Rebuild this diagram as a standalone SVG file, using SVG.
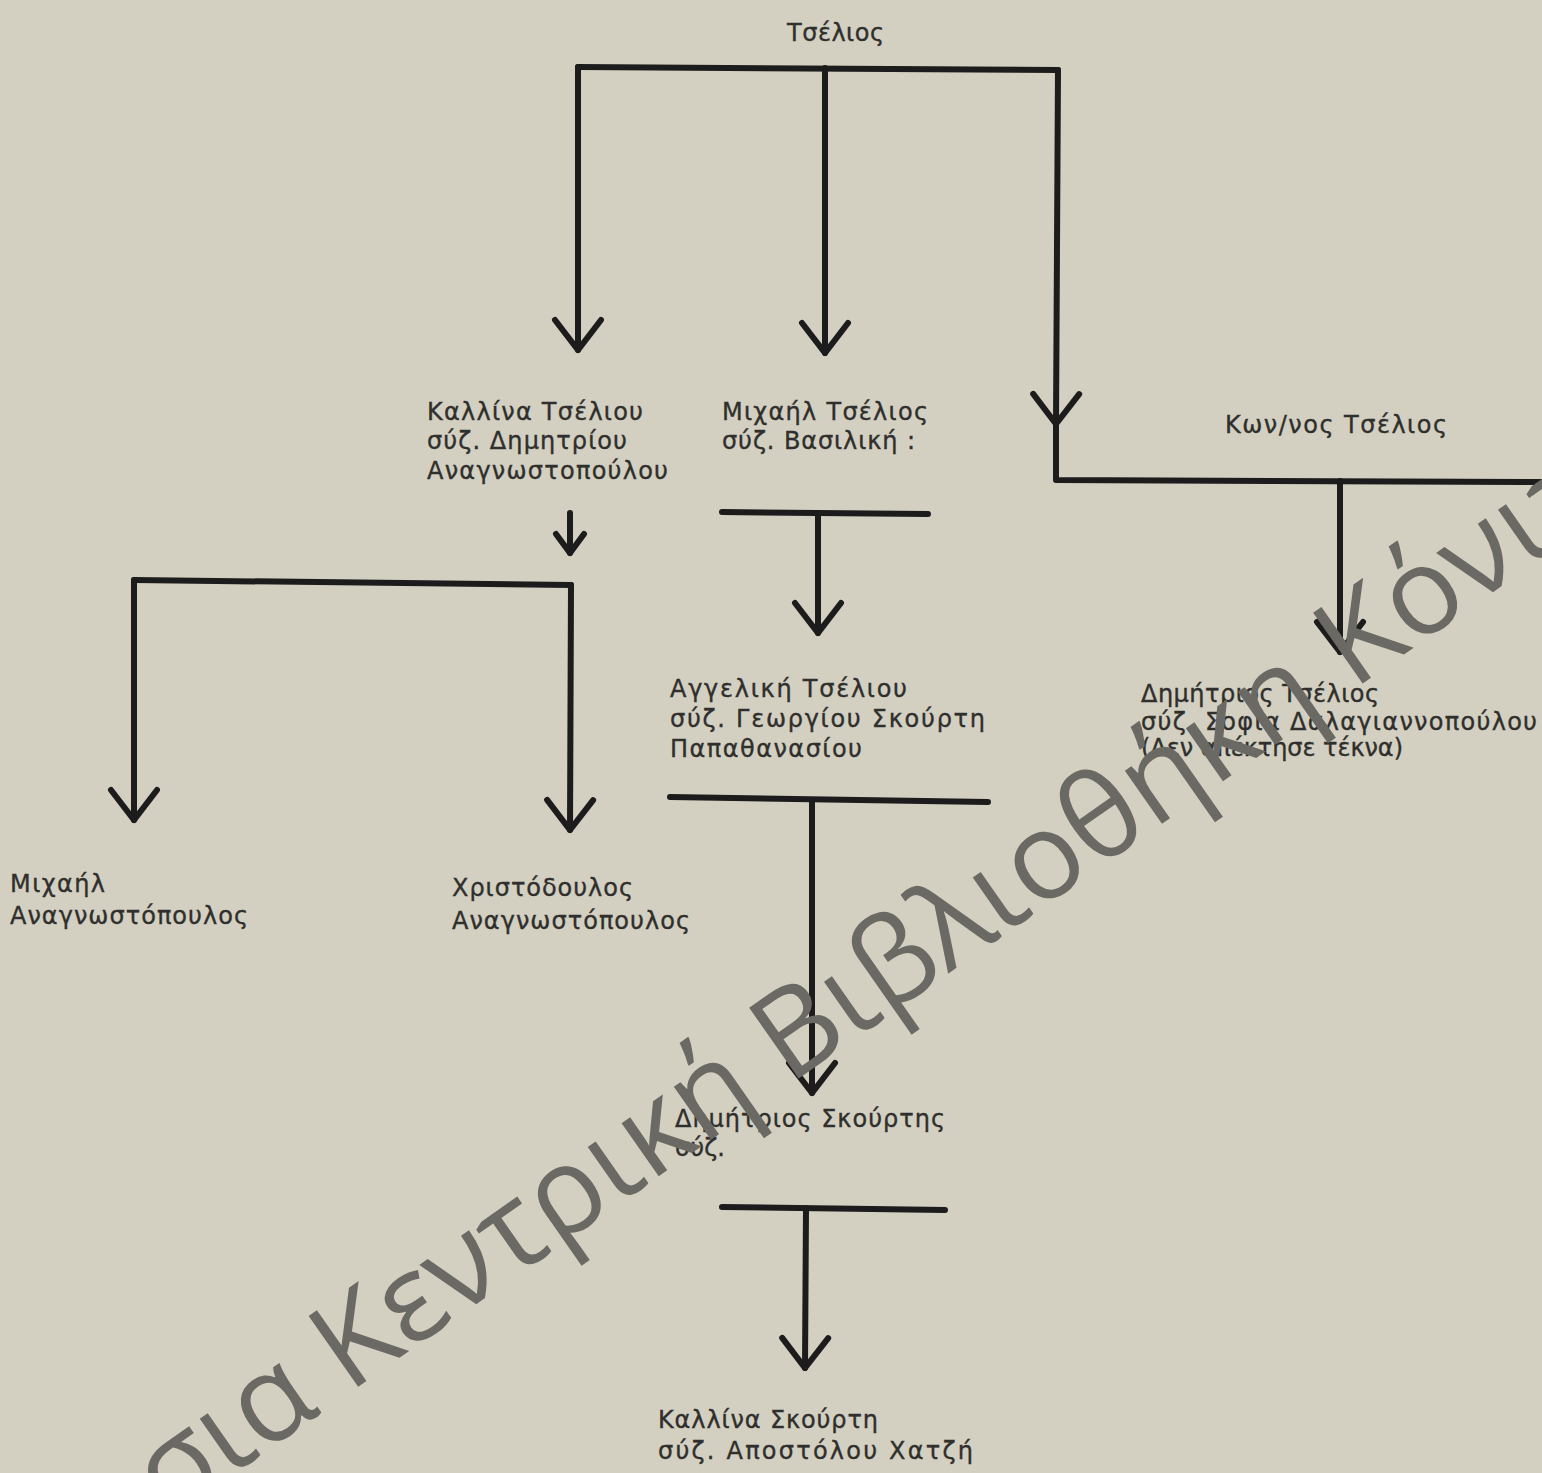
<svg xmlns="http://www.w3.org/2000/svg" width="1542" height="1473" viewBox="0 0 1542 1473">
<defs>
<style>
.bg{fill:#d3d0c1}
.ln{fill:none;stroke:#1c1c1c;stroke-width:6;stroke-linecap:round;stroke-linejoin:round}
.t{font-family:"DejaVu Sans","Liberation Sans",sans-serif;font-size:24px;fill:#2f2f2d;stroke:#2f2f2d;stroke-width:0.35px}
.wm{font-family:"Open Sans","DejaVu Sans",sans-serif;font-size:121px;fill:#6a6963}
</style>
<marker id="ah" markerUnits="userSpaceOnUse" orient="auto" markerWidth="80" markerHeight="80" refX="0" refY="0" viewBox="-40 -40 80 80" overflow="visible">
<path d="M-30,-23 L0,0 L-30,23" fill="none" stroke="#1c1c1c" stroke-width="6" stroke-linecap="round" stroke-linejoin="round"/>
</marker>
<marker id="ahs" markerUnits="userSpaceOnUse" orient="auto" markerWidth="60" markerHeight="60" refX="0" refY="0" viewBox="-30 -30 60 60" overflow="visible">
<path d="M-19,-14 L0,0 L-19,14" fill="none" stroke="#1c1c1c" stroke-width="6" stroke-linecap="round" stroke-linejoin="round"/>
</marker>
</defs>
<rect class="bg" x="0" y="0" width="1542" height="1473"/>

<g id="connectors">
<path class="ln" d="M578,67 L1058,70"/>
<path class="ln" d="M578,67 L578,350" marker-end="url(#ah)"/>
<path class="ln" d="M825,68 L825,353" marker-end="url(#ah)"/>
<path class="ln" d="M1058,70 L1056,424" marker-end="url(#ah)"/>
<path class="ln" d="M1056,424 L1056,480 L1542,482"/>
<path class="ln" d="M570,513 L570,553" marker-end="url(#ahs)"/>
<path class="ln" d="M134,580 L571,585"/>
<path class="ln" d="M134,580 L134,820" marker-end="url(#ah)"/>
<path class="ln" d="M571,585 L570,830" marker-end="url(#ah)"/>
<path class="ln" d="M722,512 L928,514"/>
<path class="ln" d="M818,513 L818,633" marker-end="url(#ah)"/>
<path class="ln" d="M670,797 L988,802"/>
<path class="ln" d="M812,800 L812,1093" marker-end="url(#ah)"/>
<path class="ln" d="M722,1207 L945,1210"/>
<path class="ln" d="M806,1208 L805,1368" marker-end="url(#ah)"/>
<path class="ln" d="M1340,481 L1340,652" marker-end="url(#ah)"/>
</g>

<g id="n-tselios"><text class="t" x="787" y="41" textLength="97" lengthAdjust="spacing">Τσέλιος</text></g>

<g id="n-kallina-tseliou">
<text class="t" x="427" y="420" textLength="216" lengthAdjust="spacing">Καλλίνα Τσέλιου</text>
<text class="t" x="427" y="449" textLength="200" lengthAdjust="spacing">σύζ. Δημητρίου</text>
<text class="t" x="427" y="479" textLength="241" lengthAdjust="spacing">Αναγνωστοπούλου</text>
</g>

<g id="n-michail-tselios">
<text class="t" x="722" y="420" textLength="206" lengthAdjust="spacing">Μιχαήλ Τσέλιος</text>
<text class="t" x="722" y="449" textLength="193" lengthAdjust="spacing">σύζ. Βασιλική :</text>
</g>

<g id="n-konstantinos-tselios">
<text class="t" x="1225" y="433" textLength="222" lengthAdjust="spacing">Κων/νος Τσέλιος</text>
</g>

<g id="n-aggeliki-tseliou">
<text class="t" x="670" y="697" textLength="237" lengthAdjust="spacing">Αγγελική Τσέλιου</text>
<text class="t" x="670" y="727" textLength="315" lengthAdjust="spacing">σύζ. Γεωργίου Σκούρτη</text>
<text class="t" x="670" y="757" textLength="192" lengthAdjust="spacing">Παπαθανασίου</text>
</g>

<g id="n-dimitrios-tselios">
<text class="t" x="1141" y="702" textLength="238" lengthAdjust="spacing">Δημήτριος Τσέλιος</text>
<text class="t" x="1141" y="730" textLength="396" lengthAdjust="spacing">σύζ. Σοφία Δαλαγιαννοπούλου</text>
<text class="t" x="1141" y="756" textLength="262" lengthAdjust="spacing">(Δεν απέκτησε τέκνα)</text>
</g>

<g id="n-michail-anagnostopoulos">
<text class="t" x="10" y="892" textLength="95" lengthAdjust="spacing">Μιχαήλ</text>
<text class="t" x="10" y="924" textLength="238" lengthAdjust="spacing">Αναγνωστόπουλος</text>
</g>

<g id="n-christodoulos-anagnostopoulos">
<text class="t" x="452" y="896" textLength="181" lengthAdjust="spacing">Χριστόδουλος</text>
<text class="t" x="452" y="929" textLength="238" lengthAdjust="spacing">Αναγνωστόπουλος</text>
</g>

<g id="n-dimitrios-skourtis">
<text class="t" x="675" y="1127" textLength="270" lengthAdjust="spacing">Δημήτριος Σκούρτης</text>
<text class="t" x="675" y="1156" textLength="50" lengthAdjust="spacing">σύζ.</text>
</g>

<g id="n-kallina-skourti">
<text class="t" x="658" y="1428" textLength="220" lengthAdjust="spacing">Καλλίνα Σκούρτη</text>
<text class="t" x="658" y="1459" textLength="315" lengthAdjust="spacing">σύζ.  Αποστόλου Χατζή</text>
</g>

<text class="wm" transform="translate(168,1520) rotate(-35)">σια Κεντρική Βιβλιοθήκη Κόνιτ</text>
</svg>
